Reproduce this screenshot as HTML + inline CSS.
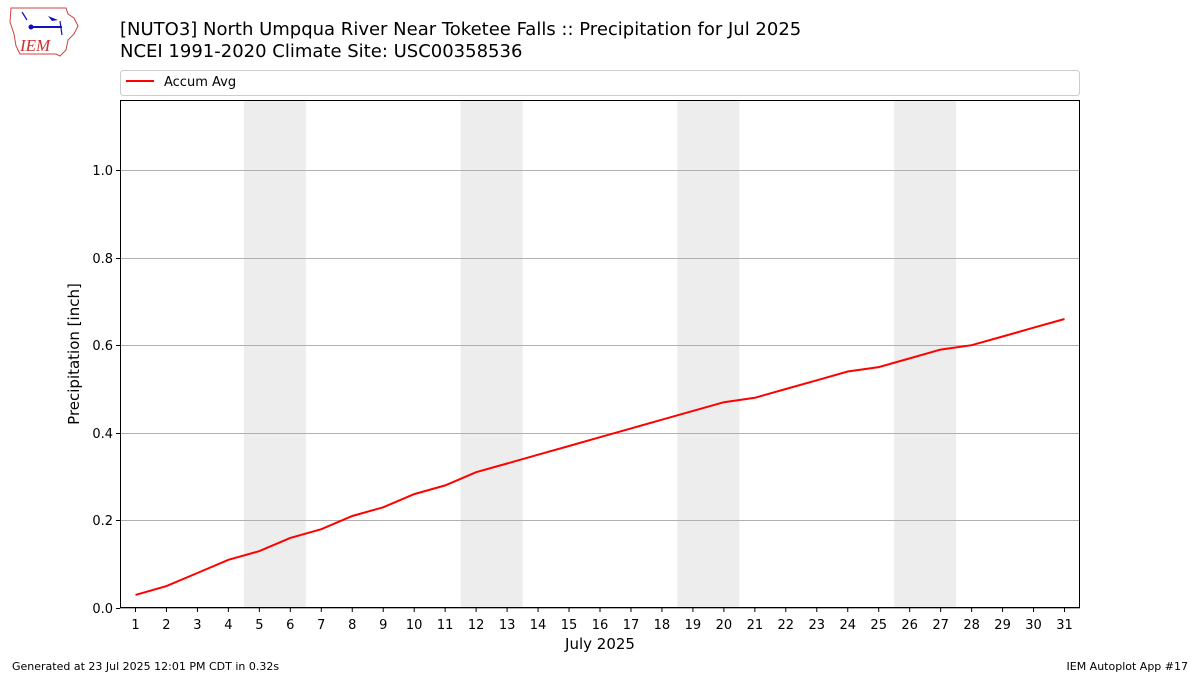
<!DOCTYPE html>
<html><head><meta charset="utf-8">
<style>
html,body{margin:0;padding:0;background:#fff;}
svg{display:block;font-family:"DejaVu Sans","Liberation Sans",sans-serif;}
</style></head>
<body>
<svg id="chart" width="1200" height="675" viewBox="0 0 1200 675" xmlns="http://www.w3.org/2000/svg">
  <g>
    <path d="M11,8 L66,8 L68,14 L74,18 L78,26 L74,34 L68,40 L66,50 L60,56 L56,54 L20,54 L16,46 L14,34 L10,22 Z" fill="#fff" stroke="#d04040" stroke-width="1"/>
    <line x1="30" y1="27" x2="62" y2="27" stroke="#1010c0" stroke-width="2"/>
    <circle cx="31" cy="27" r="2.5" fill="#1010c0"/>
    <path d="M48,16 L58,20 L52,21 Z" fill="#1010c0"/>
    <line x1="22" y1="12" x2="27" y2="20" stroke="#1010c0" stroke-width="1.2"/>
    <line x1="60" y1="21" x2="62" y2="35" stroke="#1010c0" stroke-width="1.2"/>
    <text x="20" y="51" font-family="Liberation Serif,serif" font-style="italic" font-size="17" fill="#d03030">IEM</text>
  </g>
  <text x="120" y="35" font-size="18" fill="#000">[NUTO3] North Umpqua River Near Toketee Falls :: Precipitation for Jul 2025</text>
  <text x="120" y="57" font-size="18" fill="#000">NCEI 1991-2020 Climate Site: USC00358536</text>
  <g>
    <rect x="120.5" y="70.5" width="959" height="25" rx="3" fill="#fff" stroke="#ccc"/>
    <line x1="126" y1="81" x2="154" y2="81" stroke="red" stroke-width="2"/>
    <text x="164" y="86" font-size="13">Accum Avg</text>
  </g>
  <g id="weekends"></g>
  <g id="grid"></g>
  <g id="series"></g>
  <rect x="120.5" y="100.5" width="959" height="507" fill="none" stroke="#000" stroke-width="1"/>
  <g id="axes"></g>
  <text x="100" y="0" font-size="15" text-anchor="middle" transform="translate(79,354) rotate(-90) translate(-100,0)">Precipitation [inch]</text>
  <text x="600" y="649" font-size="15" text-anchor="middle">July 2025</text>
  <text x="12" y="670" font-size="11">Generated at 23 Jul 2025 12:01 PM CDT in 0.32s</text>
  <text x="1188" y="670" font-size="11" text-anchor="end">IEM Autoplot App #17</text>
</svg>
<script>
const days = [1,2,3,4,5,6,7,8,9,10,11,12,13,14,15,16,17,18,19,20,21,22,23,24,25,26,27,28,29,30,31];
const accumAvg = [0.03,0.05,0.08,0.11,0.13,0.16,0.18,0.21,0.23,0.26,0.28,0.31,0.33,0.35,0.37,0.39,0.41,0.43,0.45,0.47,0.48,0.50,0.52,0.54,0.55,0.57,0.59,0.60,0.62,0.64,0.66];
const weekendStarts = [5,12,19,26];
const yTicks = [0.0,0.2,0.4,0.6,0.8,1.0];

const NS = "http://www.w3.org/2000/svg";
const X0 = 120, X1 = 1080, Y0 = 608, Y1 = 100;
const xMin = 0.5, xMax = 31.5, yMin = 0, yMax = 1.16;
function xs(d){ return X0 + (d - xMin) / (xMax - xMin) * (X1 - X0); }
function ys(v){ return Y0 - (v - yMin) / (yMax - yMin) * (Y0 - Y1); }
function mk(tag, attrs, parent){ const e = document.createElementNS(NS, tag); for (const k in attrs) e.setAttribute(k, attrs[k]); parent.appendChild(e); return e; }

const wk = document.getElementById('weekends');
weekendStarts.forEach(d => {
  const r = mk('rect', {x: xs(d - 0.5), y: Y1, width: xs(d + 1.5) - xs(d - 0.5), height: Y0 - Y1, fill: '#ededed'}, wk);
  
  
});

const grid = document.getElementById('grid');
const axes = document.getElementById('axes');
yTicks.forEach(t => {
  const y = Math.round(ys(t)) + 0.5;
  const g = mk('line', {x1: X0, x2: X1, y1: y, y2: y, stroke: '#b0b0b0', 'stroke-width': 1}, grid);
  
  
  mk('line', {x1: X0 - 4, x2: X0, y1: y, y2: y, stroke: '#000'}, axes);
  const tx = mk('text', {x: X0 - 7, y: y + 4.5, 'font-size': 13, 'text-anchor': 'end'}, axes);
  tx.textContent = t.toFixed(1);
  
  
});
days.forEach(d => {
  const x = xs(d);
  mk('line', {x1: x, x2: x, y1: Y0, y2: Y0 + 4, stroke: '#000'}, axes);
  const tx = mk('text', {x: x, y: Y0 + 21, 'font-size': 13, 'text-anchor': 'middle'}, axes);
  tx.textContent = String(d);
  
  
});

const series = document.getElementById('series');
const pts = days.map((d, i) => xs(d).toFixed(1) + ',' + ys(accumAvg[i]).toFixed(1)).join(' ');
const line = mk('polyline', {points: pts, fill: 'none', stroke: 'red', 'stroke-width': 2}, series);


</script>
</body></html>
